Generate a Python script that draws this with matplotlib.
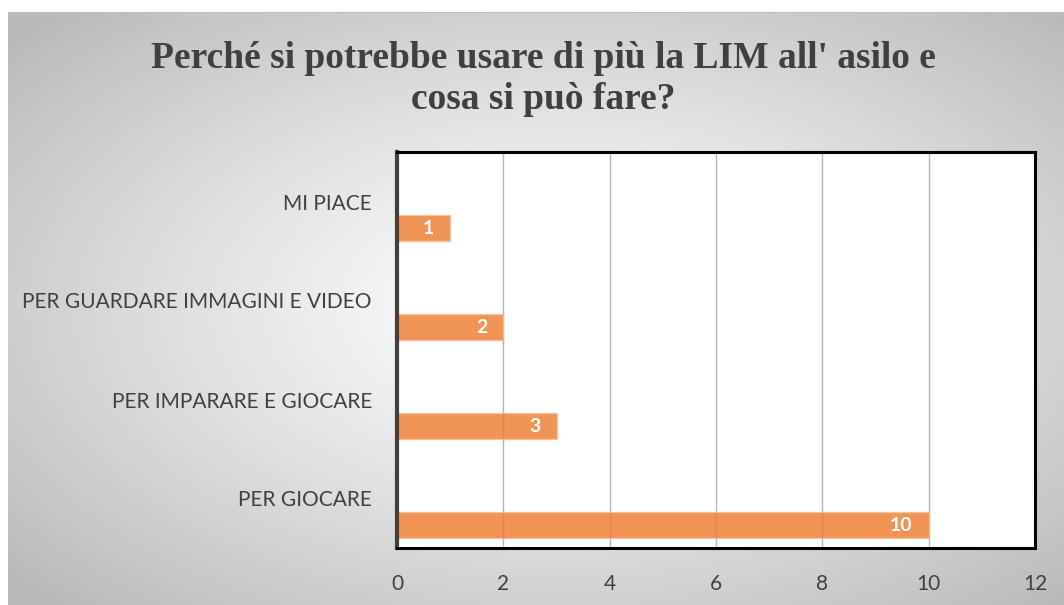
import numpy as np
import matplotlib.pyplot as plt

categorie = ["PER GIOCARE", "PER IMPARARE E GIOCARE", "PER GUARDARE IMMAGINI E VIDEO", "MI PIACE"]
risposte = [10, 3, 2, 1]
titolo = "Perché si potrebbe usare di più la LIM all' asilo e\ncosa si può fare?"

fig = plt.figure(figsize=(10.64, 6.05), dpi=100)
fig.patch.set_facecolor("white")

# sfondo con gradiente radiale
bg = fig.add_axes([8 / 1064, 0, 1 - 8 / 1064, 593 / 605])
yy, xx = np.mgrid[0:1:300j, 0:1:500j]
r = np.sqrt(((xx - 0.52) / 0.5) ** 2 + ((yy - 0.5) / 0.5) ** 2) / np.sqrt(2)
val = 1 - 0.28 * np.clip(r, 0, 1) ** 1.2
bg.imshow(val, cmap="gray", vmin=0, vmax=1, aspect="auto", extent=[0, 1, 0, 1], interpolation="bicubic")
bg.set_xticks([])
bg.set_yticks([])
for s in bg.spines.values():
    s.set_visible(False)
bg.spines["top"].set_visible(True)
bg.spines["top"].set_color("#bdbdbd")

ax = fig.add_axes([397 / 1064, 1 - 548 / 605, (1035 - 397) / 1064, (548 - 152) / 605])
ax.set_facecolor("white")
pos = np.arange(len(categorie))
bars = ax.barh(pos - 0.268, risposte, height=0.263, color="#ED7D31", alpha=0.82,
               edgecolor="#F7C09A", linewidth=1, zorder=2)
for b, v in zip(bars, risposte):
    ax.text(b.get_width() - 0.3, b.get_y() + b.get_height() / 2, str(v), ha="right", va="center",
            color="white", fontsize=14, fontweight="bold", family="Lato", zorder=3)

ax.set_xlim(0, 12)
ax.set_ylim(-0.5, 3.5)
ax.set_xticks(range(0, 13, 2))
ax.set_yticks(pos)
ax.set_yticklabels(categorie)
ax.tick_params(axis="y", length=0, pad=18, labelsize=15, labelcolor="#404040")
ax.tick_params(axis="x", length=0, pad=19, labelsize=15, labelcolor="#404040")
for lab in ax.get_xticklabels() + ax.get_yticklabels():
    lab.set_family("Lato")
ax.grid(axis="x", color="#b5b5b5", linewidth=1, zorder=1)
ax.set_axisbelow(True)
for s in ax.spines.values():
    s.set_color("black")
    s.set_linewidth(2.2)
ax.spines["left"].set_color("#404040")
ax.spines["left"].set_linewidth(3)

fig.text(0.511, 1 - 79 / 605, titolo, ha="center", va="center", fontsize=27, fontweight="bold",
         family="Liberation Serif", color="#404040", linespacing=1.22)

fig.savefig("out.png", dpi=100)
